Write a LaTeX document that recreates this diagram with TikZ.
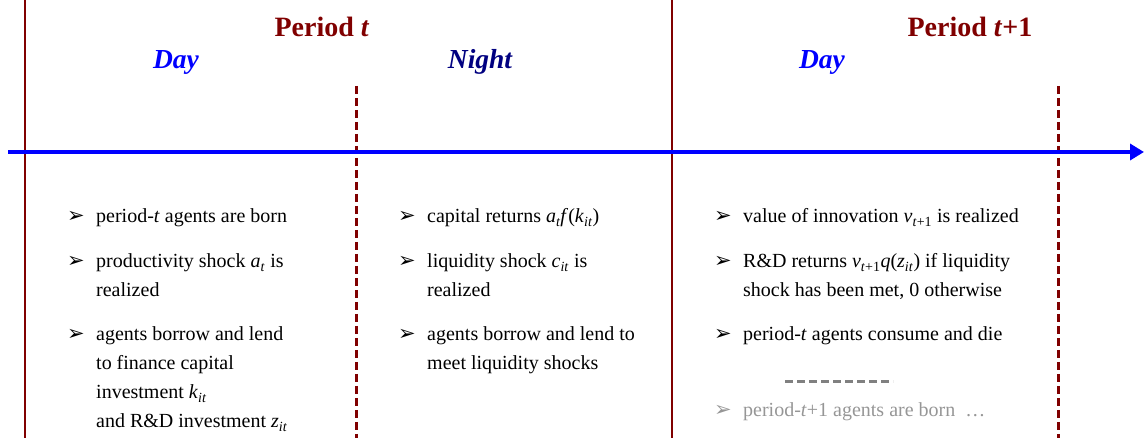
\documentclass[tikz,border=0pt]{standalone}
\usepackage{fontspec}
\setmainfont{Liberation Serif}
\newfontfamily\dejavu{DejaVu Sans}
\usetikzlibrary{arrows.meta,positioning}

\definecolor{periodred}{RGB}{128,0,0}
\definecolor{nightblue}{RGB}{0,0,128}
\definecolor{laterGray}{RGB}{150,150,150}

\newcommand{\bul}{{\dejavu\fontsize{21}{21}\selectfont ➢}}
\newcommand{\sv}[2]{\textit{#1}\textsubscript{\textit{#2}}}
\newcommand{\itm}[1]{\begin{tabular}[t]{@{}p{29pt}@{}l@{}}\bul & #1\end{tabular}}

\tikzset{
  item/.style={anchor=base west, inner sep=0pt, font=\fontsize{20}{29}\selectfont},
  period/.style={text=periodred, inner sep=0pt, font=\fontsize{28}{30}\selectfont\bfseries},
  phase/.style={inner sep=0pt, font=\fontsize{27.5}{29}\selectfont\bfseries\itshape},
  bound/.style={periodred, line width=2pt},
  split/.style={periodred, line width=3pt, dash pattern=on 8pt off 4pt},
}

\begin{document}
\begin{tikzpicture}[x=1pt, y=-1pt]
  \useasboundingbox (0,0) rectangle (1144,438);

  \coordinate (axisL) at (8,152);
  \coordinate (axisR) at (1144,152);

  \draw[bound] (25,0) -- (25,438);
  \draw[bound] (672,0) -- (672,438);
  \draw[split] (356,86) -- (356,438);
  \draw[split] (1058,86) -- (1058,438);
  \draw[blue, line width=4pt, -{Triangle[length=14pt, width=16pt]}] (axisL) -- (axisR);

  \node (periodT) [period] at (322,27) {Period \textit{t}};
  \node (periodT1) [period] at (970,27) {Period \textit{t}+1};
  \node (day1) [phase, text=blue] at (176,62) {Day};
  \node (night) [phase, text=nightblue] at (480,62) {Night};
  \node (day2) [phase, text=blue] at (822,62) {Day};

  \node (born) [item] at (67,223) {\itm{period-\textit{t} agents are born}};
  \node (prod) [item] at (67,268) {\itm{productivity shock \sv{a}{t} is\\ & realized}};
  \node (lend) [item] at (67,341) {\itm{agents borrow and lend\\ & to finance capital\\ & investment \sv{k}{it}\\ & and R\&D investment \sv{z}{it}}};

  \node (capret) [item] at (398,223) {\itm{capital returns \textit{a\textsubscript{t}f}(\sv{k}{it})}};
  \node (liq) [item] at (398,268) {\itm{liquidity shock \sv{c}{it} is\\ & realized}};
  \node (meet) [item] at (398,341) {\itm{agents borrow and lend to\\ & meet liquidity shocks}};

  \node (innov) [item] at (714,223) {\itm{value of innovation \textit{v}\textsubscript{\textit{t}+1} is realized}};
  \node (rdret) [item] at (714,268) {\itm{R\&D returns \textit{v}\textsubscript{\textit{t}+1}\textit{q}(\sv{z}{it}) if liquidity\\ & shock has been met, 0 otherwise}};
  \node (die) [item] at (714,341) {\itm{period-\textit{t} agents consume and die}};
  \coordinate (gapL) at (785,382);
  \coordinate (gapR) at (893,382);
  \draw[gray, line width=3pt, dash pattern=on 8pt off 4pt] (gapL) -- (gapR);
  \node (next) [item, text=laterGray] at (714,417) {\itm{period-\textit{t}+1 agents are born~~\dots}};
\end{tikzpicture}
\end{document}
